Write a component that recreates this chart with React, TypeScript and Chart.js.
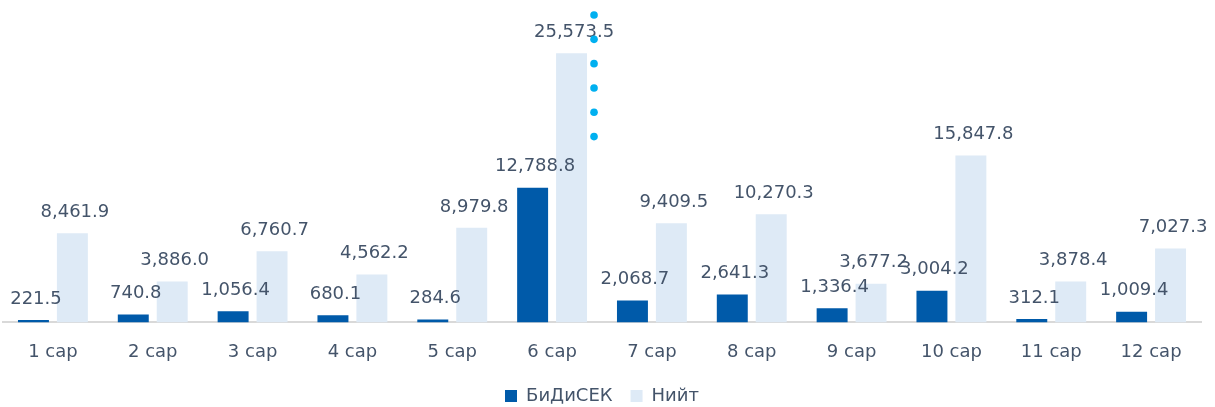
import React, { useEffect, useRef } from "react";
import { Chart, registerables } from "chart.js";

Chart.register(...registerables);

const categories = ["1 сар", "2 сар", "3 сар", "4 сар", "5 сар", "6 сар", "7 сар", "8 сар", "9 сар", "10 сар", "11 сар", "12 сар"];
const bidisecValues = [221.5, 740.8, 1056.4, 680.1, 284.6, 12788.8, 2068.7, 2641.3, 1336.4, 3004.2, 312.1, 1009.4];
const totalValues = [8461.9, 3886.0, 6760.7, 4562.2, 8979.8, 25573.5, 9409.5, 10270.3, 3677.2, 15847.8, 3878.4, 7027.3];
const seriesNames = ["БиДиСЕК", "Нийт"];

// decorative dotted marker next to the 6th month total bar
const markerCategoryIndex = 5;
const markerTopValue = 29200;
const markerBottomValue = 17650;
const markerDotCount = 6;

const TEXT_COLOR = "#44546A";
const DARK = "#005AA9";
const LIGHT = "#DEEAF6";
const FONT = "'DejaVu Sans', Verdana, sans-serif";

const fmt = (v: number) =>
  v.toLocaleString("en-US", { minimumFractionDigits: 1, maximumFractionDigits: 1 });

const labelPlugin = {
  id: "barLabels",
  afterDatasetsDraw(chart: any) {
    const ctx = chart.ctx;
    ctx.save();
    ctx.font = `18px ${FONT}`;
    ctx.fillStyle = TEXT_COLOR;
    ctx.textAlign = "center";
    ctx.textBaseline = "middle";
    chart.data.datasets.forEach((ds: any, di: number) => {
      const meta = chart.getDatasetMeta(di);
      meta.data.forEach((bar: any, i: number) => {
        ctx.fillText(fmt(ds.data[i]), bar.x + 2.5, bar.y - 21);
      });
    });
    ctx.restore();
  },
};

const dotPlugin = {
  id: "dotMarker",
  afterDatasetsDraw(chart: any) {
    const ctx = chart.ctx;
    const bar: any = chart.getDatasetMeta(1).data[markerCategoryIndex];
    const yScale = chart.scales.y;
    const x = bar.x + bar.width / 2 + 7;
    const y0 = yScale.getPixelForValue(markerTopValue);
    const y1 = yScale.getPixelForValue(markerBottomValue);
    ctx.save();
    ctx.fillStyle = "#00B0F0";
    for (let k = 0; k < markerDotCount; k++) {
      const y = y0 + ((y1 - y0) * k) / (markerDotCount - 1);
      ctx.beginPath();
      ctx.arc(x, y, 3.8, 0, Math.PI * 2);
      ctx.fill();
    }
    ctx.restore();
  },
};

export default function App() {
  const ref = useRef<HTMLCanvasElement>(null);
  useEffect(() => {
    if (!ref.current) return;
    const chart = new Chart(ref.current, {
      type: "bar",
      data: {
        labels: categories,
        datasets: [
          { label: seriesNames[0], data: bidisecValues, backgroundColor: DARK },
          { label: seriesNames[1], data: totalValues, backgroundColor: LIGHT },
        ],
      },
      options: {
        animation: false,
        responsive: false,
        maintainAspectRatio: false,
        layout: { padding: { left: 3, right: 14, top: 6.6, bottom: -8 } },
        datasets: { bar: { categoryPercentage: 0.78, barPercentage: 0.795 } } as any,
        scales: {
          x: {
            grid: { display: false, drawTicks: false },
            border: { color: "#D9D9D9", width: 2 },
            ticks: { color: TEXT_COLOR, font: { family: FONT, size: 18 }, padding: 19 },
            afterFit: (scale: any) => {
              scale.height -= 13;
            },
          },
          y: { display: false, min: 0, max: 30000 },
        },
        plugins: {
          legend: {
            position: "bottom",
            labels: {
              color: TEXT_COLOR,
              font: { family: FONT, size: 18 },
              boxWidth: 12,
              boxHeight: 12,
              padding: 18,
            },
          },
          tooltip: { enabled: false },
        },
      },
      plugins: [labelPlugin, dotPlugin],
    });
    return () => chart.destroy();
  }, []);
  return (
    <div style={{ position: "absolute", left: 0, top: 0, width: 1215, height: 407, background: "#fff" }}>
      <canvas ref={ref} width={1215} height={407} style={{ display: "block" }} />
    </div>
  );
}
